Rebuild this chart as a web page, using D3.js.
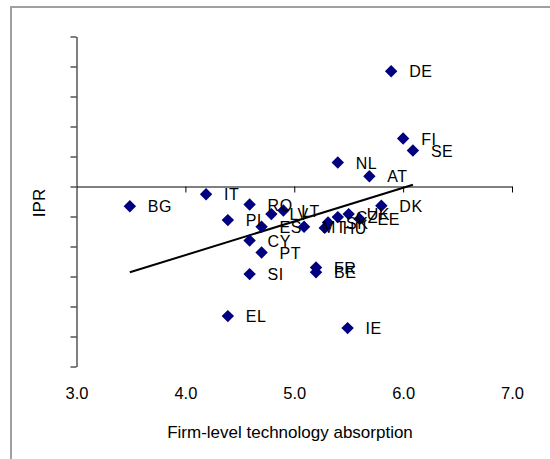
<!DOCTYPE html>
<html>
<head>
<meta charset="utf-8">
<script src="https://cdn.jsdelivr.net/npm/d3@7"></script>
<style>
  html, body { margin: 0; padding: 0; background: #fff; }
  svg { display: block; font-family: "Liberation Sans", Arial, sans-serif; }
</style>
</head>
<body>
<svg id="chart" width="550" height="459"></svg>
<script>
// Country codes and their scores
const countries = ["DE","FI","SE","NL","AT","IT","BG","DK","RO","LV","LT","PL","ES","CY","PT","MT","SK","HU","CZ","UK","EE","SI","FR","BE","EL","IE"];
const absorption = [5.89,6.00,6.09,5.40,5.69,4.19,3.49,5.80,4.59,4.79,4.90,4.39,4.70,4.59,4.70,5.09,5.31,5.28,5.40,5.50,5.60,4.59,5.20,5.20,4.39,5.49];
const ipr = [1.92,0.80,0.60,0.40,0.17,-0.13,-0.33,-0.32,-0.30,-0.46,-0.40,-0.56,-0.67,-0.90,-1.10,-0.67,-0.60,-0.69,-0.51,-0.46,-0.54,-1.46,-1.35,-1.43,-2.16,-2.36];

// Linear trend line end points
const trendX = [3.49, 6.09];
const trendY = [-1.43, 0.03];

const xTicks = [3.0, 4.0, 5.0, 6.0, 7.0];
const yTicks = [-3.0,-2.5,-2.0,-1.5,-1.0,-0.5,0,0.5,1.0,1.5,2.0,2.5];

const svg = d3.select("#chart");

// Outer frame (top and left edges)
svg.append("path")
  .attr("d", "M11,459 V7 H550")
  .attr("fill", "none")
  .attr("stroke", "#a0a0a0")
  .attr("stroke-width", 2);

const x = d3.scaleLinear().domain([3, 7]).range([76.5, 512]);
const y = d3.scaleLinear().domain([-3, 2.5]).range([366.5, 36.5]);

// Vertical axis (no labels)
const yAxis = svg.append("g")
  .attr("transform", `translate(${x(3)},0)`)
  .call(d3.axisLeft(y).tickValues(yTicks).tickSize(6).tickSizeOuter(0).tickFormat(""));
yAxis.select(".domain").attr("stroke", "#000");
yAxis.selectAll(".tick line").attr("stroke", "#000");

// Horizontal axis through zero
const xAxis = svg.append("g")
  .attr("transform", `translate(0,${y(0)})`)
  .call(d3.axisBottom(x).tickValues(xTicks.slice(1)).tickSize(6).tickSizeOuter(0).tickFormat(""));
xAxis.select(".domain").attr("stroke", "#000");
xAxis.selectAll(".tick line").attr("stroke", "#000");

// X tick labels below the plot
const xLab = svg.append("g")
  .attr("transform", "translate(0,399)")
  .call(d3.axisBottom(x).tickValues(xTicks).tickSize(0).tickPadding(0).tickFormat(d3.format(".1f")));
xLab.select(".domain").remove();
xLab.selectAll("text")
  .attr("font-size", 16.5)
  .attr("font-family", "Liberation Sans, Arial, sans-serif")
  .attr("fill", "#000")
  .attr("y", 0)
  .attr("dy", 0);

// Trend line
svg.append("line")
  .attr("x1", x(trendX[0])).attr("y1", y(trendY[0]))
  .attr("x2", x(trendX[1])).attr("y2", y(trendY[1]))
  .attr("stroke", "#000")
  .attr("stroke-width", 2);

const pts = countries.map((c, i) => ({ c, x: absorption[i], y: ipr[i] }));

// Diamond markers
const diamond = d3.symbol().type(d3.symbolDiamond2).size(98);
svg.append("g").selectAll("path")
  .data(pts)
  .join("path")
  .attr("d", diamond)
  .attr("transform", d => `translate(${x(d.x)},${y(d.y)})`)
  .attr("fill", "#000080");

// Country labels
svg.append("g").selectAll("text")
  .data(pts)
  .join("text")
  .attr("x", d => x(d.x) + 18)
  .attr("y", d => y(d.y) + 6)
  .attr("font-size", 16)
  .attr("letter-spacing", 0.5)
  .attr("fill", "#000")
  .text(d => d.c);

// Axis titles
svg.append("text")
  .attr("x", 290).attr("y", 438)
  .attr("text-anchor", "middle")
  .attr("font-size", 17)
  .text("Firm-level technology absorption");

svg.append("text")
  .attr("transform", "translate(45,203) rotate(-90)")
  .attr("text-anchor", "middle")
  .attr("font-size", 17)
  .text("IPR");
</script>
</body>
</html>
